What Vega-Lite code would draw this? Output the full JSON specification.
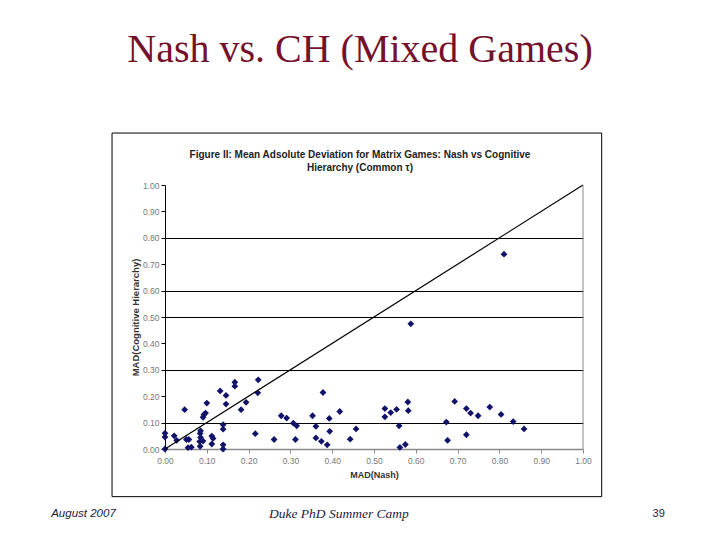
{
  "$schema": "https://vega.github.io/schema/vega-lite/v6.json",
  "width": 418,
  "height": 264,
  "autosize": {"type": "none"},
  "padding": {"left": 165, "top": 185, "right": 137, "bottom": 91},
  "background": "white",
  "config": {
    "view": {"stroke": null},
    "font": "Liberation Sans"
  },
  "title": {
    "text": "Nash vs. CH (Mixed Games)",
    "subtitle": ["Figure II: Mean Adsolute Deviation for Matrix Games: Nash vs Cognitive", "Hierarchy (Common τ)"],
    "anchor": "middle",
    "frame": "group",
    "dx": -14,
    "offset": -40,
    "font": "Liberation Serif",
    "fontSize": 40,
    "fontWeight": "normal",
    "color": "#74112b",
    "subtitleFont": "Liberation Sans",
    "subtitleFontSize": 10,
    "subtitleFontWeight": "bold",
    "subtitleColor": "#222222",
    "subtitleLineHeight": 13,
    "subtitlePadding": 80
  },
  "resolve": {"axis": {"x": "independent", "y": "independent"}},
  "layer": [
    {
      "data": {"values": [{}]},
      "mark": {"type": "rect", "fill": null, "stroke": "#000000", "strokeWidth": 1, "clip": false},
      "encoding": {
        "x": {"datum": -0.1267, "type": "quantitative", "scale": {"domain": [0, 1], "nice": false, "zero": false}, "axis": null},
        "x2": {"datum": 1.0447},
        "y": {"datum": 1.1968, "type": "quantitative", "scale": {"domain": [0, 1], "nice": false, "zero": false}, "axis": null},
        "y2": {"datum": -0.1805}
      }
    },
    {
      "data": {
        "values": [
          {"nash": 0.000, "ch": 0.060}, {"nash": 0.000, "ch": 0.045}, {"nash": 0.000, "ch": 0.000},
          {"nash": 0.022, "ch": 0.050}, {"nash": 0.028, "ch": 0.033}, {"nash": 0.047, "ch": 0.149},
          {"nash": 0.051, "ch": 0.036}, {"nash": 0.057, "ch": 0.036}, {"nash": 0.055, "ch": 0.005},
          {"nash": 0.063, "ch": 0.007}, {"nash": 0.084, "ch": 0.059}, {"nash": 0.085, "ch": 0.069},
          {"nash": 0.085, "ch": 0.044}, {"nash": 0.083, "ch": 0.028}, {"nash": 0.084, "ch": 0.010},
          {"nash": 0.091, "ch": 0.030}, {"nash": 0.091, "ch": 0.120}, {"nash": 0.093, "ch": 0.130},
          {"nash": 0.097, "ch": 0.136}, {"nash": 0.100, "ch": 0.174}, {"nash": 0.112, "ch": 0.049},
          {"nash": 0.115, "ch": 0.040}, {"nash": 0.112, "ch": 0.019}, {"nash": 0.132, "ch": 0.220},
          {"nash": 0.139, "ch": 0.092}, {"nash": 0.139, "ch": 0.075}, {"nash": 0.139, "ch": 0.016},
          {"nash": 0.139, "ch": 0.000}, {"nash": 0.146, "ch": 0.203}, {"nash": 0.146, "ch": 0.170},
          {"nash": 0.167, "ch": 0.253}, {"nash": 0.167, "ch": 0.238}, {"nash": 0.182, "ch": 0.149},
          {"nash": 0.194, "ch": 0.177}, {"nash": 0.216, "ch": 0.058}, {"nash": 0.223, "ch": 0.262},
          {"nash": 0.222, "ch": 0.213}, {"nash": 0.261, "ch": 0.036}, {"nash": 0.278, "ch": 0.126},
          {"nash": 0.291, "ch": 0.117}, {"nash": 0.307, "ch": 0.098}, {"nash": 0.315, "ch": 0.088},
          {"nash": 0.312, "ch": 0.036}, {"nash": 0.353, "ch": 0.126}, {"nash": 0.361, "ch": 0.086},
          {"nash": 0.361, "ch": 0.042}, {"nash": 0.374, "ch": 0.029}, {"nash": 0.378, "ch": 0.214},
          {"nash": 0.388, "ch": 0.016}, {"nash": 0.393, "ch": 0.116}, {"nash": 0.394, "ch": 0.067},
          {"nash": 0.418, "ch": 0.142}, {"nash": 0.443, "ch": 0.037}, {"nash": 0.457, "ch": 0.076},
          {"nash": 0.526, "ch": 0.153}, {"nash": 0.526, "ch": 0.122}, {"nash": 0.540, "ch": 0.138},
          {"nash": 0.554, "ch": 0.150}, {"nash": 0.560, "ch": 0.088}, {"nash": 0.562, "ch": 0.006},
          {"nash": 0.575, "ch": 0.017}, {"nash": 0.581, "ch": 0.178}, {"nash": 0.582, "ch": 0.145},
          {"nash": 0.588, "ch": 0.474}, {"nash": 0.673, "ch": 0.102}, {"nash": 0.676, "ch": 0.033},
          {"nash": 0.693, "ch": 0.180}, {"nash": 0.721, "ch": 0.153}, {"nash": 0.721, "ch": 0.054},
          {"nash": 0.731, "ch": 0.136}, {"nash": 0.749, "ch": 0.126}, {"nash": 0.777, "ch": 0.159},
          {"nash": 0.804, "ch": 0.131}, {"nash": 0.811, "ch": 0.738}, {"nash": 0.833, "ch": 0.104},
          {"nash": 0.859, "ch": 0.076}
        ]
      },
      "mark": {"type": "point", "shape": "diamond", "filled": true, "size": 46, "color": "#12126b", "opacity": 1, "clip": false},
      "encoding": {
        "x": {
          "field": "nash", "type": "quantitative",
          "scale": {"domain": [0, 1], "nice": false, "zero": false},
          "axis": {
            "title": "MAD(Nash)",
            "values": [0, 0.1, 0.2, 0.3, 0.4, 0.5, 0.6, 0.7, 0.8, 0.9, 1],
            "format": ".2f",
            "grid": false,
            "labelFlush": false,
            "domainColor": "#8a8a8a",
            "domainWidth": 1.5,
            "tickColor": "#8a8a8a",
            "tickSize": 4,
            "labelFont": "Liberation Sans",
            "labelFontSize": 8.5,
            "labelColor": "#777777",
            "labelPadding": 3,
            "titleFont": "Liberation Sans",
            "titleFontSize": 9,
            "titleFontWeight": "bold",
            "titleColor": "#333333",
            "titlePadding": 6
          }
        },
        "y": {
          "field": "ch", "type": "quantitative",
          "scale": {"domain": [0, 1], "nice": false, "zero": false},
          "axis": {
            "title": "MAD(Cognitive Hierarchy)",
            "values": [0, 0.1, 0.2, 0.3, 0.4, 0.5, 0.6, 0.7, 0.8, 0.9, 1],
            "format": ".2f",
            "grid": true,
            "labelFlush": false,
            "gridColor": "#000000",
            "gridWidth": 1,
            "gridOpacity": {"condition": {"test": "indexof([1,3,5,6,8], round(datum.value*10)) >= 0", "value": 1}, "value": 0},
            "domainColor": "#000000",
            "domainWidth": 1,
            "tickColor": "#000000",
            "tickSize": 4,
            "labelFont": "Liberation Sans",
            "labelFontSize": 8.5,
            "labelColor": "#777777",
            "labelPadding": 2,
            "titleFont": "Liberation Sans",
            "titleFontSize": 9.5,
            "titleFontWeight": "bold",
            "titleColor": "#333333",
            "titlePadding": 2
          }
        }
      }
    },
    {
      "data": {"values": [{}]},
      "mark": {"type": "rule", "color": "#000000", "strokeWidth": 1.2},
      "encoding": {
        "x": {"datum": 0, "type": "quantitative", "axis": null},
        "y": {"datum": 0, "type": "quantitative", "axis": null},
        "x2": {"datum": 1},
        "y2": {"datum": 1}
      }
    },
    {
      "data": {"values": [{}]},
      "mark": {"type": "rule", "color": "#8a8a8a", "strokeWidth": 1},
      "encoding": {
        "x": {"datum": 1, "type": "quantitative", "axis": null},
        "y": {"datum": 0, "type": "quantitative", "axis": null},
        "y2": {"datum": 1}
      }
    },
    {
      "data": {"values": [{}]},
      "mark": {"type": "text", "font": "Liberation Sans", "fontStyle": "italic", "fontSize": 11.5, "color": "#1c1c40", "align": "center", "baseline": "middle", "clip": false},
      "encoding": {
        "x": {"datum": -0.195, "type": "quantitative", "axis": null},
        "y": {"datum": -0.246, "type": "quantitative", "axis": null},
        "text": {"value": "August 2007"}
      }
    },
    {
      "data": {"values": [{}]},
      "mark": {"type": "text", "font": "Liberation Serif", "fontStyle": "italic", "fontSize": 13.5, "color": "#1c1c40", "align": "center", "baseline": "middle", "clip": false},
      "encoding": {
        "x": {"datum": 0.416, "type": "quantitative", "axis": null},
        "y": {"datum": -0.246, "type": "quantitative", "axis": null},
        "text": {"value": "Duke PhD Summer Camp"}
      }
    },
    {
      "data": {"values": [{}]},
      "mark": {"type": "text", "font": "Liberation Sans", "fontSize": 11, "color": "#1c1c40", "align": "center", "baseline": "middle", "clip": false},
      "encoding": {
        "x": {"datum": 1.181, "type": "quantitative", "axis": null},
        "y": {"datum": -0.246, "type": "quantitative", "axis": null},
        "text": {"value": "39"}
      }
    }
  ]
}
